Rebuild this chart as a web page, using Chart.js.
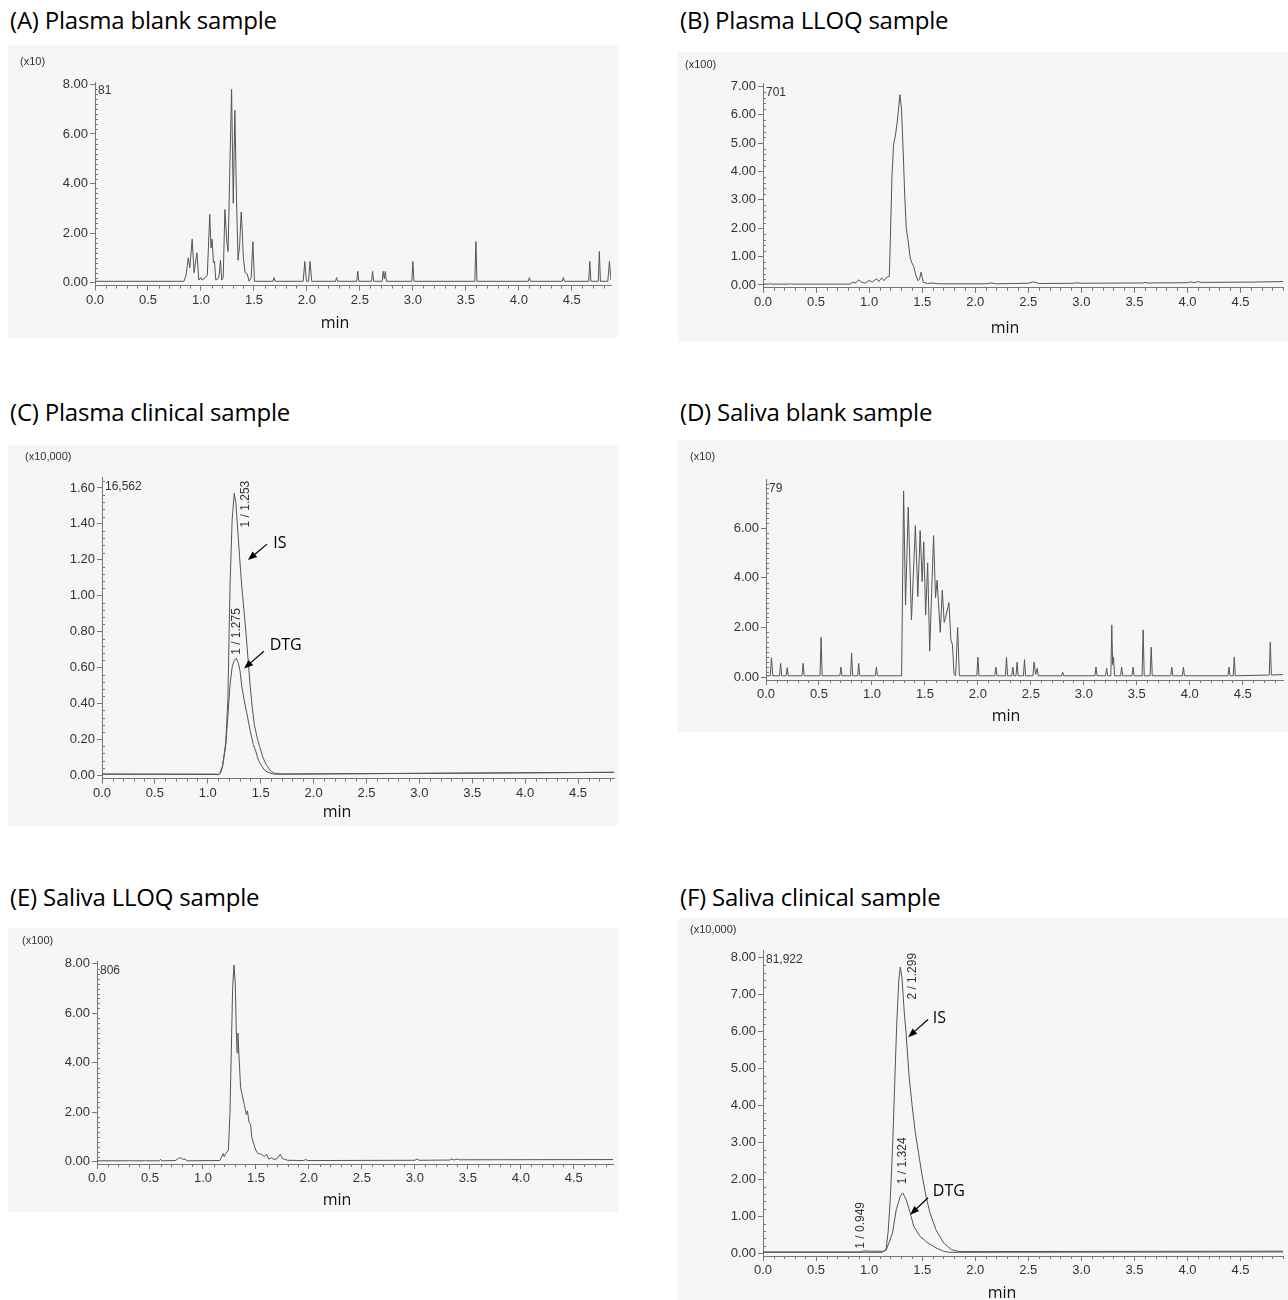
<!DOCTYPE html>
<html>
<head>
<meta charset="utf-8">
<script src="https://cdn.jsdelivr.net/npm/chart.js@4.4.1/dist/chart.umd.min.js"></script>
<style>
  body { margin: 0; width: 1288px; height: 1300px; background: #fff; position: relative; overflow: hidden; }
  .title { position: absolute; font: 24px "Open Sans", sans-serif; color: #000; white-space: nowrap; letter-spacing: -0.2px; }
  canvas { position: absolute; }
</style>
</head>
<body>
<div class="title" style="left:10px;top:3px">(A) Plasma blank sample</div>
<div class="title" style="left:680px;top:3px">(B) Plasma LLOQ sample</div>
<div class="title" style="left:10px;top:395px">(C) Plasma clinical sample</div>
<div class="title" style="left:680px;top:395px">(D) Saliva blank sample</div>
<div class="title" style="left:10px;top:880px">(E) Saliva LLOQ sample</div>
<div class="title" style="left:680px;top:880px">(F) Saliva clinical sample</div>
<canvas id="cA"></canvas>
<canvas id="cB"></canvas>
<canvas id="cC"></canvas>
<canvas id="cD"></canvas>
<canvas id="cE"></canvas>
<canvas id="cF"></canvas>
<script>
// ---- (A) plasma blank, intensity x10 ----
const aTime   = [0, 0.84, 0.86, 0.88, 0.895, 0.917, 0.935, 0.962, 0.98, 1.0, 1.01, 1.03, 1.06, 1.083, 1.095, 1.105, 1.118, 1.128, 1.14, 1.16, 1.172, 1.184, 1.196, 1.21, 1.226, 1.245, 1.256, 1.272, 1.289, 1.305, 1.32, 1.335, 1.35, 1.365, 1.38, 1.39, 1.40, 1.417, 1.436, 1.455, 1.474, 1.49, 1.505, 1.68, 1.69, 1.70, 1.965, 1.98, 1.995, 2.015, 2.03, 2.045, 2.27, 2.28, 2.29, 2.47, 2.48, 2.49, 2.61, 2.62, 2.63, 2.71, 2.72, 2.73, 2.74, 2.75, 2.99, 3.0, 3.01, 3.585, 3.595, 3.605, 4.09, 4.1, 4.11, 4.41, 4.42, 4.43, 4.66, 4.67, 4.68, 4.75, 4.76, 4.77, 4.84, 4.855, 4.87];
const aSignal = [0.05, 0.05, 0.3, 1.0, 0.6, 1.75, 0.4, 1.2, 0.1, 0.2, 0.1, 0.15, 0.3, 2.75, 1.4, 1.75, 0.8, 0.85, 0.1, 0.15, 0.3, 0.9, 0.1, 0.2, 2.95, 1.6, 1.25, 4.5, 7.8, 3.2, 6.95, 3.5, 0.9, 1.5, 2.85, 2.05, 1.0, 0.4, 0.35, 0.05, 0.2, 1.65, 0.05, 0.05, 0.2, 0.05, 0.05, 0.85, 0.05, 0.05, 0.85, 0.05, 0.05, 0.2, 0.05, 0.05, 0.45, 0.05, 0.05, 0.45, 0.05, 0.05, 0.45, 0.15, 0.45, 0.05, 0.05, 0.85, 0.05, 0.05, 1.65, 0.05, 0.05, 0.2, 0.05, 0.05, 0.2, 0.05, 0.05, 0.85, 0.05, 0.05, 1.25, 0.05, 0.05, 0.85, 0.1];

// ---- (B) plasma LLOQ, intensity x100 ----
const bTime   = [0, 0.06, 0.07, 0.08, 0.25, 0.26, 0.27, 0.82, 0.85, 0.87, 0.9, 0.93, 0.96, 1.0, 1.03, 1.07, 1.09, 1.12, 1.14, 1.17, 1.19, 1.2, 1.215, 1.23, 1.245, 1.26, 1.275, 1.29, 1.305, 1.32, 1.335, 1.35, 1.37, 1.385, 1.4, 1.42, 1.44, 1.46, 1.475, 1.49, 1.51, 1.55, 1.6, 1.65, 2.1, 2.15, 2.2, 2.35, 2.5, 2.55, 2.6, 2.93, 2.95, 3.0, 3.58, 3.6, 3.62, 4.0, 4.03, 4.06, 4.1, 4.13, 4.6, 4.9];
const bSignal = [0.03, 0.03, 0.06, 0.03, 0.03, 0.05, 0.03, 0.03, 0.1, 0.06, 0.18, 0.1, 0.06, 0.16, 0.1, 0.22, 0.12, 0.25, 0.15, 0.28, 0.3, 1.6, 3.8, 4.95, 5.2, 5.6, 6.1, 6.7, 6.2, 4.8, 3.2, 2.0, 1.5, 1.0, 0.8, 0.65, 0.35, 0.15, 0.2, 0.45, 0.1, 0.05, 0.07, 0.04, 0.04, 0.07, 0.04, 0.05, 0.06, 0.11, 0.05, 0.06, 0.08, 0.06, 0.07, 0.09, 0.07, 0.08, 0.11, 0.08, 0.12, 0.09, 0.1, 0.12];

// ---- (C) plasma clinical, intensity x10,000 ----
const cTimeIS  = [0, 1.08, 1.1, 1.115, 1.14, 1.17, 1.19, 1.21, 1.23, 1.25, 1.265, 1.285, 1.30, 1.32, 1.34, 1.36, 1.38, 1.40, 1.42, 1.44, 1.47, 1.49, 1.52, 1.55, 1.59, 1.63, 1.7, 4.84];
const cIS      = [0.005, 0.005, 0.0, 0.01, 0.05, 0.18, 0.42, 1.05, 1.42, 1.57, 1.52, 1.35, 1.22, 1.06, 0.93, 0.8, 0.65, 0.5, 0.38, 0.28, 0.2, 0.16, 0.1, 0.06, 0.025, 0.01, 0.005, 0.015];
const cTimeDTG = [0, 1.1, 1.12, 1.14, 1.17, 1.19, 1.21, 1.23, 1.25, 1.27, 1.29, 1.305, 1.32, 1.34, 1.37, 1.40, 1.43, 1.455, 1.48, 1.51, 1.54, 1.57, 1.62, 4.84];
const cDTG     = [0.005, 0.003, 0.01, 0.05, 0.17, 0.33, 0.5, 0.6, 0.64, 0.65, 0.62, 0.58, 0.5, 0.43, 0.34, 0.25, 0.17, 0.13, 0.08, 0.05, 0.025, 0.015, 0.005, 0.015];

// ---- (D) saliva blank, intensity x10 ----
const dTime   = [0, 0.04, 0.052, 0.064, 0.128, 0.138, 0.148, 0.19, 0.2, 0.21, 0.34, 0.35, 0.36, 0.51, 0.52, 0.53, 0.697, 0.707, 0.717, 0.798, 0.808, 0.818, 0.865, 0.875, 0.885, 1.032, 1.042, 1.052, 1.28, 1.299, 1.317, 1.343, 1.373, 1.41, 1.433, 1.455, 1.474, 1.489, 1.507, 1.526, 1.545, 1.582, 1.6, 1.615, 1.645, 1.664, 1.682, 1.695, 1.727, 1.745, 1.76, 1.775, 1.79, 1.809, 1.825, 1.99, 2.0, 2.01, 2.16, 2.17, 2.18, 2.26, 2.27, 2.28, 2.32, 2.33, 2.34, 2.36, 2.37, 2.38, 2.43, 2.44, 2.45, 2.52, 2.53, 2.545, 2.56, 2.57, 2.79, 2.8, 2.81, 3.105, 3.115, 3.125, 3.205, 3.215, 3.225, 3.255, 3.264, 3.272, 3.28, 3.29, 3.347, 3.357, 3.367, 3.455, 3.465, 3.475, 3.55, 3.56, 3.57, 3.626, 3.636, 3.646, 3.82, 3.83, 3.84, 3.93, 3.94, 3.95, 4.36, 4.37, 4.38, 4.41, 4.42, 4.43, 4.75, 4.76, 4.77, 4.88];
const dSignal = [0.05, 0.05, 0.78, 0.05, 0.05, 0.55, 0.05, 0.05, 0.38, 0.05, 0.05, 0.55, 0.05, 0.05, 1.6, 0.05, 0.05, 0.4, 0.05, 0.05, 0.97, 0.05, 0.05, 0.55, 0.05, 0.05, 0.4, 0.05, 0.05, 7.5, 2.9, 6.85, 2.3, 6.1, 3.25, 5.9, 3.85, 5.45, 2.5, 4.6, 1.05, 5.7, 3.2, 3.9, 1.8, 3.5, 2.2, 2.4, 3.0, 1.5, 1.3, 0.1, 0.05, 2.0, 0.05, 0.05, 0.8, 0.05, 0.05, 0.4, 0.05, 0.05, 0.8, 0.05, 0.05, 0.4, 0.05, 0.05, 0.6, 0.05, 0.05, 0.7, 0.05, 0.05, 0.6, 0.1, 0.35, 0.05, 0.05, 0.2, 0.05, 0.05, 0.4, 0.05, 0.05, 0.35, 0.05, 0.05, 2.1, 0.5, 0.8, 0.05, 0.05, 0.4, 0.05, 0.05, 0.4, 0.05, 0.05, 1.9, 0.05, 0.05, 1.2, 0.05, 0.05, 0.4, 0.05, 0.05, 0.4, 0.05, 0.05, 0.4, 0.05, 0.05, 0.8, 0.05, 0.08, 1.4, 0.08, 0.1];

// ---- (E) saliva LLOQ, intensity x100 ----
const eTime   = [0, 0.3, 0.31, 0.32, 0.45, 0.46, 0.47, 0.59, 0.6, 0.61, 0.74, 0.77, 0.79, 0.81, 0.83, 0.85, 1.16, 1.19, 1.2, 1.22, 1.24, 1.255, 1.27, 1.28, 1.293, 1.305, 1.315, 1.322, 1.33, 1.34, 1.355, 1.37, 1.39, 1.41, 1.42, 1.435, 1.45, 1.46, 1.48, 1.5, 1.52, 1.55, 1.58, 1.6, 1.62, 1.65, 1.67, 1.7, 1.73, 1.75, 1.8, 1.95, 1.97, 1.99, 3.0, 3.02, 3.04, 3.33, 3.35, 3.37, 3.4, 3.42, 4.87];
const eSignal = [0.03, 0.03, 0.05, 0.03, 0.03, 0.05, 0.03, 0.03, 0.09, 0.03, 0.04, 0.13, 0.16, 0.09, 0.1, 0.03, 0.04, 0.32, 0.2, 0.35, 0.45, 2.0, 5.0, 7.0, 7.95, 7.2, 5.2, 4.4, 5.2, 4.3, 3.0, 2.7, 2.3, 1.9, 2.05, 1.6, 1.5, 1.0, 0.7, 0.45, 0.32, 0.3, 0.2, 0.3, 0.1, 0.15, 0.08, 0.12, 0.3, 0.12, 0.05, 0.04, 0.08, 0.04, 0.05, 0.1, 0.05, 0.06, 0.1, 0.06, 0.1, 0.07, 0.08];

// ---- (F) saliva clinical, intensity x10,000 ----
const fTimeIS  = [0, 0.9, 0.93, 0.95, 1.0, 1.1, 1.13, 1.16, 1.18, 1.2, 1.22, 1.24, 1.26, 1.28, 1.294, 1.31, 1.331, 1.35, 1.376, 1.405, 1.435, 1.465, 1.5, 1.536, 1.573, 1.63, 1.703, 1.778, 1.85, 4.9];
const fIS      = [0.03, 0.03, 0.04, 0.06, 0.05, 0.05, 0.04, 0.1, 0.6, 1.5, 2.8, 4.5, 6.2, 7.4, 7.75, 7.45, 6.53, 5.9, 4.81, 4.0, 3.27, 2.72, 2.09, 1.54, 1.09, 0.63, 0.27, 0.09, 0.04, 0.05];
const fTimeDTG = [0, 1.12, 1.16, 1.19, 1.22, 1.256, 1.294, 1.316, 1.35, 1.387, 1.42, 1.48, 1.555, 1.63, 1.7, 1.75, 4.9];
const fDTG     = [0.02, 0.02, 0.08, 0.3, 0.54, 1.18, 1.54, 1.63, 1.45, 1.09, 0.73, 0.45, 0.27, 0.14, 0.05, 0.02, 0.03];

const LINE = '#555';
const AXIS = '#777';
const TXT  = '#333';

// chart area rectangles are given in page pixels: [left, top, right, bottom]
const PANELS = [
  { id: 'cA', box: [8, 45, 618, 338], area: [95, 82, 611, 285.5], xMax: 4.87, yMin: -0.12, yMax: 8.1, yStep: 2, yMinor: 0.2,
    unit: '(x10)', unitAt: [20, 62], top: '81', minAt: [335, 323],
    series: [[aTime, aSignal]], notes: [], arrows: [] },
  { id: 'cB', box: [678, 52, 1288, 342], area: [763, 83.4, 1283, 287.8], xMax: 4.9, yMin: -0.1, yMax: 7.1, yStep: 1, yMinor: 0.2,
    unit: '(x100)', unitAt: [685, 65], top: '701', minAt: [1005, 328],
    series: [[bTime, bSignal]], notes: [], arrows: [] },
  { id: 'cC', box: [8, 445, 618, 826], area: [102, 477.2, 614, 778.6], xMax: 4.84, yMin: -0.02, yMax: 1.66, yStep: 0.2, yMinor: 0.04,
    unit: '(x10,000)', unitAt: [25, 457], top: '16,562', minAt: [337, 812],
    series: [[cTimeIS, cIS], [cTimeDTG, cDTG]],
    notes: [
      { x: 1.36, y: 1.51, text: '1 / 1.253', rot: true },
      { x: 1.275, y: 0.8, text: '1 / 1.275', rot: true },
      { x: 1.62, y: 1.29, text: 'IS', big: true },
      { x: 1.585, y: 0.72, text: 'DTG', big: true },
    ],
    arrows: [[1.56, 1.287, 1.38, 1.198], [1.53, 0.69, 1.343, 0.593]] },
  { id: 'cD', box: [678, 440, 1288, 732], area: [766, 479.8, 1283, 680], xMax: 4.88, yMin: -0.12, yMax: 7.95, yStep: 2, yMinor: 0.2,
    unit: '(x10)', unitAt: [690, 457], top: '79', minAt: [1006, 716],
    series: [[dTime, dSignal]], notes: [], arrows: [] },
  { id: 'cE', box: [8, 928, 618, 1212], area: [97, 961.4, 613, 1164], xMax: 4.87, yMin: -0.1, yMax: 8.1, yStep: 2, yMinor: 0.2,
    unit: '(x100)', unitAt: [22, 941], top: '806', minAt: [337, 1200],
    series: [[eTime, eSignal]], notes: [], arrows: [] },
  { id: 'cF', box: [678, 918, 1288, 1300], area: [763, 950.8, 1283, 1256], xMax: 4.9, yMin: -0.08, yMax: 8.19, yStep: 1, yMinor: 0.2,
    unit: '(x10,000)', unitAt: [690, 930], top: '81,922', minAt: [1002, 1293],
    series: [[fTimeIS, fIS], [fTimeDTG, fDTG]],
    notes: [
      { x: 1.413, y: 7.5, text: '2 / 1.299', rot: true },
      { x: 1.32, y: 2.5, text: '1 / 1.324', rot: true },
      { x: 0.92, y: 0.75, text: '1 / 0.949', rot: true },
      { x: 1.6, y: 6.35, text: 'IS', big: true },
      { x: 1.6, y: 1.68, text: 'DTG', big: true },
    ],
    arrows: [[1.555, 6.33, 1.368, 5.85], [1.555, 1.5, 1.387, 1.04]] },
];

// background, minor ticks, labels and arrows drawn through the chart's own scales
const extras = {
  id: 'extras',
  beforeDraw(chart) {
    const { ctx, width, height } = chart;
    ctx.save();
    ctx.fillStyle = '#f6f6f6';
    ctx.fillRect(0, 0, width, height);
    ctx.restore();
  },
  afterDraw(chart, args, o) {
    const p = o.panel;
    const { ctx } = chart;
    const xs = chart.scales.x, ys = chart.scales.y;
    const ox = p.box[0], oy = p.box[1];
    ctx.save();

    // minor ticks
    ctx.strokeStyle = AXIS;
    ctx.lineWidth = 1;
    ctx.beginPath();
    for (let k = 0; k * 0.1 <= xs.max + 1e-9; k++) {
      if (k % 5 === 0) continue;
      const px = Math.round(xs.getPixelForValue(k * 0.1)) + 0.5;
      ctx.moveTo(px, chart.chartArea.bottom);
      ctx.lineTo(px, chart.chartArea.bottom + 3);
    }
    const ratio = Math.round(p.yStep / p.yMinor);
    for (let k = 1; k * p.yMinor <= ys.max + 1e-9; k++) {
      if (k % ratio === 0) continue;
      const py = Math.round(ys.getPixelForValue(k * p.yMinor)) + 0.5;
      ctx.moveTo(chart.chartArea.left, py);
      ctx.lineTo(chart.chartArea.left + 3, py);
    }
    ctx.stroke();

    // unit, top value and axis name
    ctx.fillStyle = TXT;
    ctx.textBaseline = 'middle';
    ctx.textAlign = 'left';
    ctx.font = '11px "Liberation Sans", Arial, sans-serif';
    ctx.fillText(p.unit, p.unitAt[0] - ox, p.unitAt[1] - oy);
    ctx.font = '12px "Liberation Sans", Arial, sans-serif';
    ctx.fillText(p.top, chart.chartArea.left + 3, chart.chartArea.top + 9);
    ctx.textAlign = 'center';
    ctx.fillStyle = '#111';
    ctx.font = '16px "Open Sans", sans-serif';
    ctx.fillText('min', p.minAt[0] - ox, p.minAt[1] - oy);

    // peak annotations
    p.notes.forEach(n => {
      const px = xs.getPixelForValue(n.x), py = ys.getPixelForValue(n.y);
      ctx.save();
      ctx.translate(px, py);
      if (n.rot) {
        ctx.rotate(-Math.PI / 2);
        ctx.fillStyle = TXT;
        ctx.font = '12px "Liberation Sans", Arial, sans-serif';
        ctx.textAlign = 'center';
      } else {
        ctx.fillStyle = '#000';
        ctx.font = '16px "Open Sans", sans-serif';
        ctx.textAlign = 'left';
      }
      ctx.fillText(n.text, 0, 0);
      ctx.restore();
    });

    // arrows pointing at the peaks
    ctx.strokeStyle = '#000';
    ctx.fillStyle = '#000';
    ctx.lineWidth = 1.2;
    p.arrows.forEach(a => {
      const x1 = xs.getPixelForValue(a[0]), y1 = ys.getPixelForValue(a[1]);
      const x2 = xs.getPixelForValue(a[2]), y2 = ys.getPixelForValue(a[3]);
      const ang = Math.atan2(y2 - y1, x2 - x1);
      ctx.beginPath();
      ctx.moveTo(x1, y1);
      ctx.lineTo(x2 - 6 * Math.cos(ang), y2 - 6 * Math.sin(ang));
      ctx.stroke();
      ctx.beginPath();
      ctx.moveTo(x2, y2);
      ctx.lineTo(x2 - 9 * Math.cos(ang) + 3.5 * Math.sin(ang), y2 - 9 * Math.sin(ang) - 3.5 * Math.cos(ang));
      ctx.lineTo(x2 - 9 * Math.cos(ang) - 3.5 * Math.sin(ang), y2 - 9 * Math.sin(ang) + 3.5 * Math.cos(ang));
      ctx.closePath();
      ctx.fill();
    });
    ctx.restore();
  },
};

PANELS.forEach(p => {
  const cv = document.getElementById(p.id);
  const w = p.box[2] - p.box[0], h = p.box[3] - p.box[1];
  cv.width = w; cv.height = h;
  cv.style.left = p.box[0] + 'px';
  cv.style.top = p.box[1] + 'px';
  cv.style.width = w + 'px';
  cv.style.height = h + 'px';

  const tickFont = { family: '"Liberation Sans", Arial, sans-serif', size: 13 };
  new Chart(cv.getContext('2d'), {
    type: 'line',
    data: {
      datasets: p.series.map(s => ({
        data: s[0].map((t, i) => ({ x: t, y: s[1][i] })),
        borderColor: LINE,
        borderWidth: 1,
        pointRadius: 0,
        tension: 0,
        fill: false,
      })),
    },
    plugins: [extras],
    options: {
      responsive: false,
      animation: false,
      layout: { padding: { left: 0, top: p.area[1] - p.box[1], right: p.box[2] - p.area[2], bottom: 0 } },
      scales: {
        x: {
          type: 'linear', min: 0, max: p.xMax,
          ticks: { stepSize: 0.5, includeBounds: false, autoSkip: false, maxRotation: 0, padding: 2, color: TXT, font: tickFont,
                   callback: v => v.toFixed(1) },
          grid: { drawOnChartArea: false, tickLength: 5, color: AXIS },
          border: { color: AXIS },
          afterFit: s => { s.height = p.box[3] - p.area[3]; },
        },
        y: {
          type: 'linear', min: p.yMin, max: p.yMax,
          ticks: { stepSize: p.yStep, includeBounds: false, padding: 2, color: TXT, font: tickFont,
                   callback: v => v.toFixed(2) },
          grid: { drawOnChartArea: false, tickLength: 5, color: AXIS },
          border: { color: AXIS },
          afterFit: s => { s.width = p.area[0] - p.box[0]; },
        },
      },
      plugins: {
        legend: { display: false },
        tooltip: { enabled: false },
        extras: { panel: p },
      },
    },
  });
});
</script>
</body>
</html>
